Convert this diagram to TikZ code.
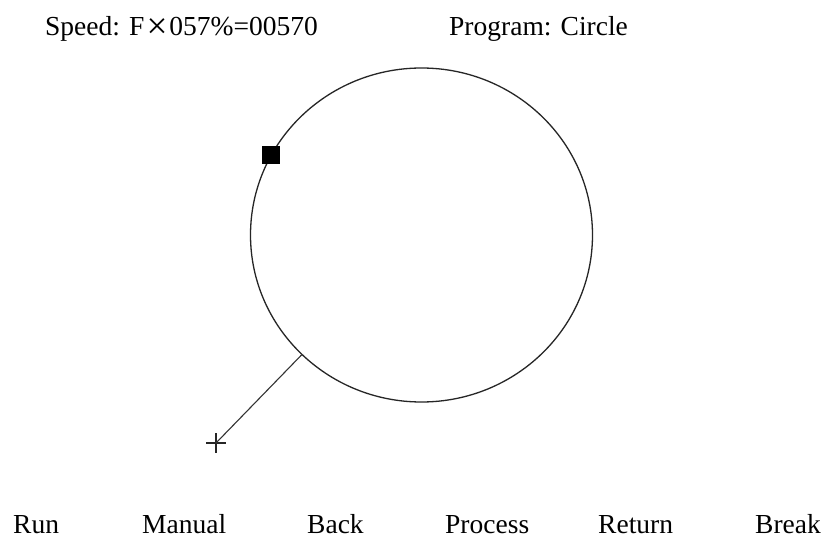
\documentclass[tikz,border=0pt]{standalone}
\usepackage{fontspec}
\setmainfont{Liberation Serif}
\usetikzlibrary{shapes.geometric,shapes.misc}
\begin{document}
\begin{tikzpicture}[x=1pt,y=-1pt,
  lbl/.style={anchor=base west,inner sep=0pt,font=\fontsize{27.5}{33}\selectfont},
  orbit/.style={ellipse,draw=black!85,line width=1.3pt,minimum width=342pt,minimum height=334pt,inner sep=0pt},
  toolmark/.style={rectangle,fill=black,minimum size=18pt,inner sep=0pt},
  plusmark/.style={cross out,draw=black!85,line width=1.3pt,rotate=45,minimum size=12.7pt,inner sep=0pt},
  link/.style={draw=black!80,line width=1.1pt}]
\useasboundingbox (0,0) rectangle (825,537);
\fill[white] (0,0) rectangle (825,537);
\node[lbl] (speed) at (45,35.7) {Speed: F\kern2pt\raisebox{-2.4pt}{\scalebox{1.35}{×}}\kern2pt057\%=00570};
\node[lbl] (prog) at (449,35.7) {Program: Circle};
\node[orbit] (circ) at (421.5,235) {};
\node[toolmark] (tool) at (circ.152) {};
\node[plusmark] (pl) at (216,443) {};
\draw[link] (circ.225) -- (pl.center);
\node[lbl] (run) at (13,533.8) {Run};
\node[lbl] (manual) at (142,533.8) {Manual};
\node[lbl] (back) at (307,533.8) {Back};
\node[lbl] (process) at (445,533.8) {Process};
\node[lbl] (return) at (598,533.8) {Return};
\node[lbl] (break) at (755,533.8) {Break};
\end{tikzpicture}
\end{document}
